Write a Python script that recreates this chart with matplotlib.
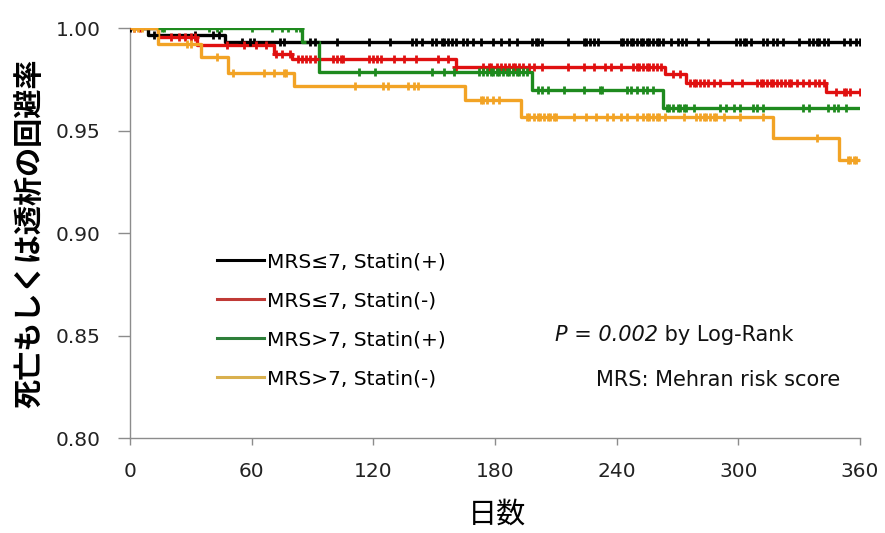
import numpy as np
import matplotlib
matplotlib.use("Agg")
import matplotlib.pyplot as plt
from matplotlib.lines import Line2D

plt.rcParams['font.family'] = ['DejaVu Sans']
CJK = ['Noto Sans CJK JP', 'DejaVu Sans']

# ---- data (Kaplan-Meier step curves) ----
labels = ["MRS≤7, Statin(+)", "MRS≤7, Statin(-)", "MRS>7, Statin(+)", "MRS>7, Statin(-)"]

black_t = [0, 9, 47]
black_s = [1.0, 0.9966, 0.9930]
red_t = [0, 14, 33, 71, 80, 161, 264, 274, 343]
red_s = [1.0, 0.9956, 0.9915, 0.9875, 0.9850, 0.9810, 0.9776, 0.9733, 0.9690]
green_t = [0, 85, 93, 198, 263]
green_s = [1.0, 0.9930, 0.9785, 0.9700, 0.9610]
orange_t = [0, 14, 35, 48.5, 81, 165, 193, 317, 349.6]
orange_s = [1.0, 0.9920, 0.9860, 0.9780, 0.9717, 0.9649, 0.9567, 0.9462, 0.9356]
end_day = 360

# censoring marks (days)
black_c = [0, 12, 32, 41, 44, 55, 59, 61, 74, 76, 89, 91, 102, 118, 128, 139, 141, 144, 149, 151,
           154, 155, 157, 159, 161, 164, 166, 169, 173, 179, 183, 187, 191, 198, 200, 201, 203, 216,
           224, 225, 227, 229, 231, 242, 243, 245, 247, 248, 250, 252, 253, 255, 256, 258, 260, 261,
           263, 267, 270, 272, 274, 280, 285, 299, 301, 303, 304, 306, 312, 314, 317, 319, 322, 330,
           335, 337, 339, 340, 342, 344, 352, 355, 358, 360]
red_c = [2, 5, 20, 24, 27, 30, 32, 48, 56, 62, 67, 72, 75, 79, 83, 85, 87, 89, 91, 100, 102, 104,
         105, 118, 120, 122, 124, 130, 135, 141, 152, 157, 161, 174, 177, 178, 181, 183, 185, 187,
         189, 190, 192, 194, 197, 199, 203, 216, 224, 229, 234, 237, 242, 248, 250, 251, 253, 255,
         256, 258, 260, 262, 268, 271, 276, 278, 279, 281, 283, 285, 288, 291, 297, 302, 309, 311,
         312, 314, 316, 317, 319, 321, 323, 325, 326, 329, 332, 335, 338, 340, 342, 348, 352, 353,
         355, 360]
green_c = [16, 17, 39, 43, 45, 60, 70, 75, 78, 82, 84, 113, 121, 149, 155, 160, 172, 174, 176,
           178, 179, 181, 182, 184, 186, 187, 189, 191, 192, 194, 196, 201, 203, 206, 214, 224, 232,
           233, 245, 247, 250, 253, 255, 258, 265, 266, 268, 270, 271, 273, 274, 278, 291, 294, 298,
           301, 307, 309, 312, 332, 335, 344, 347, 349, 353]
orange_c = [2, 4, 6, 28, 30, 43, 51, 66, 71, 76, 77, 111, 125, 127, 137, 140, 142, 173, 174, 176,
            179, 182, 196, 197, 199, 201, 202, 204, 206, 207, 209, 210, 219, 225, 230, 235, 238,
            242, 245, 250, 253, 255, 256, 258, 260, 261, 264, 273, 279, 281, 283, 284, 286, 288,
            289, 293, 301, 312, 339, 354, 355, 357, 358]

line_colors = ["#000000", "#E01010", "#1E8A1E", "#F2A325"]
legend_colors = ["#000000", "#C03A36", "#2E7F3A", "#D9B04E"]

series = [(black_t, black_s, black_c), (red_t, red_s, red_c),
          (green_t, green_s, green_c), (orange_t, orange_s, orange_c)]

W, H = 885, 533
fig = plt.figure(figsize=(W / 100, H / 100), dpi=100)
ax = fig.add_axes([130 / W, 1 - 438 / H, 730 / W, 410 / H])


def fx(px):
    return px / W


def fy(py):
    return 1 - py / H


for (t, s, c), col in zip(series, line_colors):
    tt = list(t) + [end_day]
    ss = list(s) + [s[-1]]
    ax.step(tt, ss, where='post', color=col, lw=2.4, zorder=3)
    c = np.asarray(c, dtype=float)
    idx = np.searchsorted(np.asarray(t, dtype=float), c, side='right') - 1
    cy = np.asarray(s)[idx]
    ax.plot(c, cy, ls='none', marker='+', ms=6, mew=2.0, color=col, zorder=4)

ax.set_xlim(0, 360)
ax.set_ylim(0.80, 1.00)
ax.set_xticks([0, 60, 120, 180, 240, 300, 360])
ax.set_yticks([0.80, 0.85, 0.90, 0.95, 1.00])
ax.set_yticklabels(["0.80", "0.85", "0.90", "0.95", "1.00"])
for sp in ['top', 'right']:
    ax.spines[sp].set_visible(False)
for sp in ['left', 'bottom']:
    ax.spines[sp].set_color('#8c8c8c')
    ax.spines[sp].set_linewidth(1.0)
ax.tick_params(axis='both', colors='#8c8c8c', labelcolor='#222222', labelsize=14.5,
               direction='out', width=1.0)
ax.tick_params(axis='x', length=5, pad=12)
ax.tick_params(axis='y', length=9, pad=12)

fig.text(fx(29), fy(233), "死亡もしくは透析の回避率", family=CJK, fontsize=21,
         fontweight='bold', rotation=90, ha='center', va='center')
fig.text(fx(497), fy(515), "日数", family=CJK, fontsize=21, ha='center', va='center')

handles = [Line2D([0], [0], color=c, lw=2.2) for c in legend_colors]
ax.legend(handles, labels, loc='upper left', bbox_to_anchor=(fx(217), fy(252)),
          bbox_transform=fig.transFigure, frameon=False, fontsize=14.5, handlelength=2.35,
          handletextpad=0.15, labelspacing=1.0, borderaxespad=0, borderpad=0)

t1 = fig.text(fx(555), fy(335), "P = 0.002", fontsize=15, style='italic',
              ha='left', va='center', color='#111111')
ax.annotate(" by Log-Rank", xy=(1, 0.5), xycoords=t1, ha='left', va='center',
            fontsize=15, color='#111111')
fig.text(fx(840), fy(380), "MRS: Mehran risk score", fontsize=15, ha='right', va='center',
         color='#111111')

fig.savefig("out.png", dpi=100)
